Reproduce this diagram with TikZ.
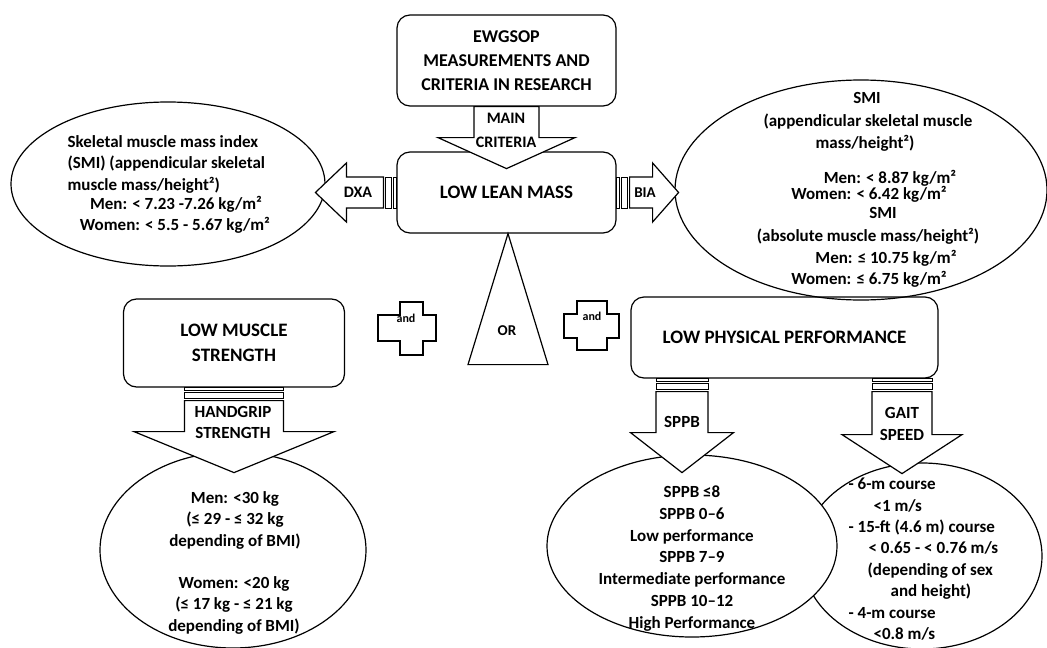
\documentclass[tikz,border=0pt]{standalone}
\usepackage{fontspec}
\setmainfont{Carlito}
\usetikzlibrary{shapes.geometric}

\begin{document}
\begin{tikzpicture}[x=1pt, y=-1pt, line width=1.2pt,
    every node/.append style={font=\bfseries\fontsize{17}{21.5}\selectfont, inner sep=0pt},
    rbox/.style={draw, rounded corners=13pt, align=center, font=\bfseries\fontsize{19}{25}\selectfont},
    oval/.style={draw, ellipse, inner sep=0pt},
    barrow/.style={draw, fill=white, line join=miter},
    stripe/.style={draw, fill=white, line width=0.9pt},
    txt/.style={align=center},
    line/.style={anchor=mid}]
  \useasboundingbox (0,0) rectangle (1047,648);

  % boxes
  \node (ewg) [rbox, font=\bfseries\fontsize{18}{24}\selectfont, minimum width=219pt, minimum height=91pt] at (506.5,60.5) {EWGSOP\\MEASUREMENTS AND\\CRITERIA IN RESEARCH};
  \node (llm) [rbox, minimum width=219pt, minimum height=81pt] at (506.5,192.5) {LOW LEAN MASS};
  \node (lms) [rbox, minimum width=221pt, minimum height=88pt] at (234,343) {LOW MUSCLE\\STRENGTH};
  \node (lpp) [rbox, minimum width=307pt, minimum height=81pt] at (784.5,337.5) {LOW PHYSICAL PERFORMANCE};

  % ovals
  \node (dxaoval) [oval, minimum width=314pt, minimum height=164pt] at (168,184) {};
  \node (biaoval) [oval, minimum width=372pt, minimum height=220pt] at (861,190) {};
  \node (hgoval) [oval, minimum width=266pt, minimum height=196pt] at (233,550) {};
  \node (gaitoval) [oval, minimum width=240pt, minimum height=186pt] at (922,556) {};
  \node (sppboval) [oval, fill=white, minimum width=290pt, minimum height=182pt] at (692,546) {};

  % main criteria
  \draw[barrow] (ewg.south) ++(-32.5,0) -- ++(65,0) -- ++(0,31) -- ++(36,0) -- ++(-68.5,31) -- ++(-68.5,-31) -- ++(36,0) -- cycle;
  % DXA
  \draw[stripe] (llm.west) ++(0,-15.5) rectangle ++(-3,31);
  \draw[stripe] (llm.west) ++(-5,-15.5) rectangle ++(-5.5,31);
  \draw[barrow] (llm.west) ++(-13,-15.5) -- ++(-37,0) -- ++(0,-14) -- ++(-31,29.5) -- ++(31,29.5) -- ++(0,-14) -- ++(37,0) -- cycle;
  % BIA
  \draw[stripe] (llm.east) ++(0,-15.5) rectangle ++(3,31);
  \draw[stripe] (llm.east) ++(5,-15.5) rectangle ++(5.5,31);
  \draw[barrow] (llm.east) ++(13,-15.5) -- ++(23,0) -- ++(0,-14) -- ++(26,29.5) -- ++(-26,29.5) -- ++(0,-14) -- ++(-23,0) -- cycle;
  % handgrip
  \draw[stripe] (lms.south) ++(-49.5,0) rectangle ++(99,3);
  \draw[stripe] (lms.south) ++(-49.5,5) rectangle ++(99,5.5);
  \draw[barrow] (lms.south) ++(-49.5,13) -- ++(99,0) -- ++(0,31) -- ++(50.5,0) -- ++(-100,41) -- ++(-100,-41) -- ++(50.5,0) -- cycle;
  % SPPB
  \draw[stripe] (lpp.south) ++(-128.5,0) rectangle ++(52,3);
  \draw[stripe] (lpp.south) ++(-128.5,5) rectangle ++(52,5.5);
  \draw[barrow] (lpp.south) ++(-128.5,13) -- ++(52,0) -- ++(0,41) -- ++(25.5,0) -- ++(-51.5,40) -- ++(-51.5,-40) -- ++(25.5,0) -- cycle;
  % gait speed
  \draw[stripe] (lpp.south) ++(87.5,0) rectangle ++(60,3);
  \draw[stripe] (lpp.south) ++(87.5,5) rectangle ++(60,5.5);
  \draw[barrow] (lpp.south) ++(87.5,13) -- ++(60,0) -- ++(0,43) -- ++(30,0) -- ++(-60,39) -- ++(-60,-39) -- ++(30,0) -- cycle;

  % OR and the two and
  \draw[line join=miter] (llm.south) ++(1.5,0) -- ++(40,131) -- ++(-80,0) -- cycle;
  \draw (400,302) -- ++(23,0) -- ++(0,13) -- ++(13,0) -- ++(0,26) -- ++(-13,0) -- ++(0,14) -- ++(-23,0) -- ++(0,-14) -- ++(-22,0) -- ++(0,-26) -- ++(22,0) -- cycle;
  \draw (577,301) -- ++(30,0) -- ++(0,13) -- ++(12,0) -- ++(0,24) -- ++(-12,0) -- ++(0,12) -- ++(-30,0) -- ++(0,-12) -- ++(-13,0) -- ++(0,-24) -- ++(13,0) -- cycle;
  \node (or) at (507,331) {\fontsize{15}{18}\selectfont OR};
  \node (and1) at (406,318) {\fontsize{12}{14}\selectfont and};
  \node (and2) at (592,316) {\fontsize{12}{14}\selectfont and};

  % arrow labels
  \node (maincrit) [txt, font=\bfseries\fontsize{16}{24}\selectfont] at (506,130) {MAIN\\CRITERIA};
  \node (dxa) at (358,192) {\fontsize{16}{18}\selectfont DXA};
  \node (bia) at (645,193) {\fontsize{15}{18}\selectfont BIA};
  \node (handgrip) [txt] at (233,422.5) {HANDGRIP\\STRENGTH};
  \node (sppb) at (682,422) {SPPB};
  \node (gait) [txt] at (902,424) {GAIT\\SPEED};

  % DXA oval text
  \node (dxasmi) [anchor=north west, align=left] at (67,134.5) {Skeletal muscle mass index\\(SMI) (appendicular skeletal\\muscle mass/height²)};
  \node (dxamen) [line] at (176,207.5) {Men: < 7.23 -7.26 kg/m²};
  \node (dxawomen) [line] at (175,228.5) {Women: < 5.5 - 5.67 kg/m²};

  % BIA oval text
  \node (biasmi) [line] at (867,101.5) {SMI};
  \node (biaapp) [line] at (868,124.5) {(appendicular skeletal muscle};
  \node (biamass) [line] at (865,146.5) {mass/height²)};
  \node (biamen) [line] at (890,181.5) {Men: < 8.87 kg/m²};
  \node (biawomen) [line] at (869,197.5) {Women: < 6.42 kg/m²};
  \node (biasmitwo) [line] at (883,216.5) {SMI};
  \node (biaabs) [line] at (868,239.5) {(absolute muscle mass/height²)};
  \node (biamentwo) [line] at (886,261.5) {Men: ≤ 10.75 kg/m²};
  \node (biawomentwo) [line] at (869,282.5) {Women: ≤ 6.75 kg/m²};

  % handgrip oval text
  \node (hgmen) [txt, anchor=north] at (235,490.5) {Men: <30 kg\\(≤ 29 - ≤ 32 kg\\depending of BMI)};
  \node (hgwomen) [txt, anchor=north] at (234,575.5) {Women: <20 kg\\(≤ 17 kg - ≤ 21 kg\\depending of BMI)};

  % SPPB oval text
  \node (sppbtxt) [txt, anchor=north, font=\bfseries\fontsize{17}{21.7}\selectfont] at (692,485.5) {SPPB ≤8\\SPPB 0–6\\Low performance\\SPPB 7–9\\Intermediate performance\\SPPB 10–12\\High Performance};

  % gait oval text
  \node (gaittxt) [anchor=north west, align=left, font=\bfseries\fontsize{17}{21.4}\selectfont] at (848,477.5) {- 6-m course\\\hspace*{25pt}<1 m/s\\- 15-ft (4.6 m) course\\\hspace*{20pt}< 0.65 - < 0.76 m/s\\\hspace*{19pt}(depending of sex\\\hspace*{42pt}and height)\\- 4-m course\\\hspace*{25pt}<0.8 m/s};
\end{tikzpicture}
\end{document}
